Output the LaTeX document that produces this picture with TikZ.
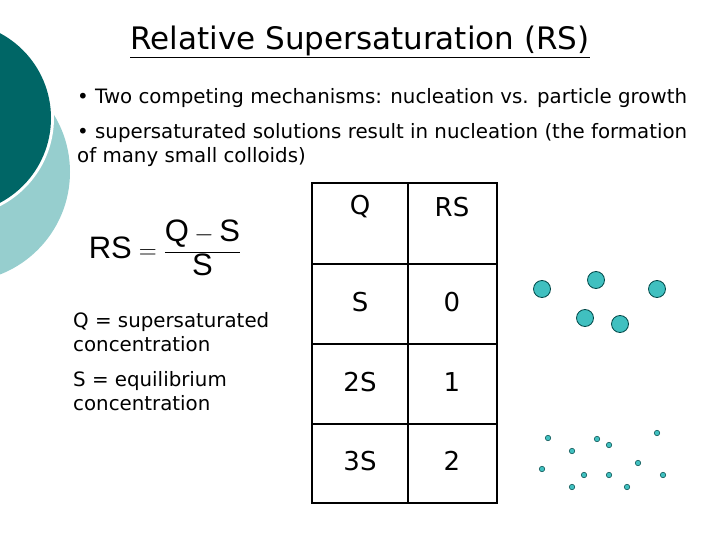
\documentclass[tikz,border=0pt]{standalone}
\usepackage{fontspec}
\setmainfont{DejaVu Sans}
\setsansfont{Liberation Sans}
\definecolor{lightc}{RGB}{150,206,206}
\definecolor{darkc}{RGB}{0,102,102}
\definecolor{dotc}{RGB}{64,192,192}
\begin{document}
\begin{tikzpicture}[x=1pt,y=-1pt,
  big/.style={circle,fill=dotc,draw=darkc!70!black,line width=0.8pt,minimum size=17pt,inner sep=0},
  small/.style={circle,fill=dotc,draw=darkc!70!black,line width=0.5pt,minimum size=5.5pt,inner sep=0},
  txt/.style={anchor=west,font=\fontsize{19.8}{24}\selectfont,align=left,inner sep=0},
  cell/.style={font=\fontsize{26}{30}\selectfont}]
\useasboundingbox (0,0) rectangle (720,540);
\fill[lightc] (-40,172) circle (110);
\fill[white] (-45,118) circle (99);
\fill[darkc] (-45,118) circle (96);
\node[font=\fontsize{31}{36}\selectfont] (title) at (360,42) {\underline{Relative Supersaturation (RS)}};
\node[txt] (b1) at (77,98) {• Two competing mechanisms: nucleation vs. particle growth};
\node[txt] (b2) at (77,145) {• supersaturated solutions result in nucleation (the formation\\of many small colloids)};
\node (f) at (165,248) {\sffamily\fontsize{31}{36}\selectfont RS${}=\displaystyle\frac{\mbox{Q}-\mbox{S}}{\mbox{S}}$};
\node[txt] (q) at (73,332) {Q = supersaturated\\concentration};
\node[txt] (s) at (73,391) {S = equilibrium\\concentration};
\draw[line width=1.8pt] (312,183) rectangle (497,503);
\draw[line width=1.3pt] (408,183) -- (408,503);
\foreach \y in {264,344,424} \draw[line width=1.3pt] (312,\y) -- (497,\y);
\node[cell] (c1) at (360,207) {Q}; \node[cell] (d1) at (452,207) {RS};
\node[cell] (c2) at (360,302) {S}; \node[cell] (d2) at (452,302) {0};
\node[cell] (c3) at (360,382) {2S}; \node[cell] (d3) at (452,382) {1};
\node[cell] (c4) at (360,461) {3S}; \node[cell] (d4) at (452,461) {2};
\foreach \p/\n in {{(542,289)}/a,{(596,280)}/b,{(657,289)}/c,{(585,318)}/d,{(620,324)}/e}
  \node[big] (\n) at \p {};
\foreach \p/\n in {{(548,438)}/s1,{(572,451)}/s2,{(597,439)}/s3,{(609,445)}/s4,{(657,433)}/s5,{(542,469)}/s6,{(584,475)}/s7,{(609,475)}/s8,{(638,463)}/s9,{(663,475)}/s10,{(572,487)}/s11,{(627,487)}/s12}
  \node[small] (\n) at \p {};
\end{tikzpicture}
\end{document}
